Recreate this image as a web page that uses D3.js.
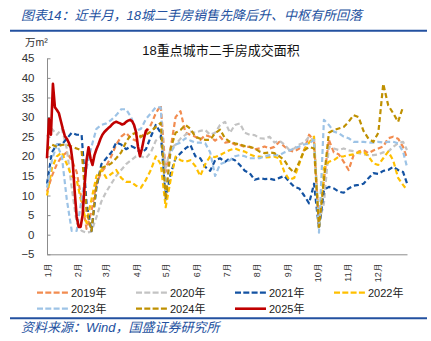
<!DOCTYPE html>
<html>
<head>
<meta charset="utf-8">
<script src="https://cdn.jsdelivr.net/npm/d3@7"></script>
<style>
  html, body { margin: 0; padding: 0; background: #fff; }
  svg { display: block; font-family: "Liberation Sans", Arial, "Noto Sans CJK SC", sans-serif; }
</style>
</head>
<body>
<svg id="chart" width="431" height="341"></svg>
<script>
// 18 key cities, second-hand housing transaction area (10k m²), by day of year
const yearLabels = ["2019年", "2020年", "2021年", "2022年", "2023年", "2024年", "2025年"];
const yTicks = [-5, 0, 5, 10, 15, 20, 25, 30, 35, 40, 45];

// dashed years sampled every 5 days from 1 Jan
const stepDays = 5;
const s2019 = [11,15,18,20,21,19,16,9,1.5,6, 13,16,17.5,20,23,25,26,24.5,24,25,
  26,28,31,33,16,22,30,31.5,26,25.5, 25,24.2,25.4,25,24,25,23.5,23.7,23,22.9,
  22.4,22.4,21.8,22,22.5,22,22.4,23.7,22.5,21.5, 21.2,22,21.5,25.5,24,2,14,24.2,21,20.5,
  18.6,16.5,20.3,21.2,21.6,20.8,21.5,22,22.5,24.6, 25,24.5,22.4,19.5];
const s2020 = [25,27,25.5,27,22,12,3,1,0.5,0.8, 4.5,8.5,11,13,15,16.5,18,19,20,20,
  19.5,21,24,25,17,22,23,24.5,25.5,26.3, 26,26.5,26.7,25.5,26,28,28.8,26,28,28.4,
  26,25.5,25.4,24.6,24.5,25,23.5,24,23,21.6, 22,23,23.5,25,24,3,8,22.4,22,21.6,
  22,21.5,21.3,20.8,20.5,20.3,20.3,20.5,21,21.2, 22.4,23.3,23.7,21.6];
const s2021 = [13,21,23,23,24.5,26,25.5,25.5,8,1, 12,18,19.5,21,23.5,23,21.8,22.6,22,20.8,
  21.8,25,28,26,9,15.5,19.5,20.8,22,22.9, 20,19.5,17.3,16.3,19,19.5,18.6,19.5,19,17.8,
  16.3,15.7,14,14.4,14.2,14.3,14,14.5,15,13.5, 12.2,11.8,10,8,13,1.5,11.4,12.2,11.8,11,
  10.7,11.8,12.5,12.7,13,14.4,15.7,15.5,16.3,16.5, 17.3,16.5,16,13.1];
const s2022 = [10,17,20,21,18,15,14,8,3,9, 15,16.5,14.5,15.5,16.5,14.5,13.5,13.5,12.5,12,
  14,16.5,20,18,7,14,19.9,19,18.6,19, 17.5,15,18,20,19.8,20.3,21,21.6,22,21.5,
  21.2,20.5,20,19.9,19.7,19.8,19.9,19.5,16,14, 14.5,18,21.6,23.5,25,1.5,17,18.6,19,19.9,
  20,20.3,20.5,21,21.2,20,18.2,17.8,19.5,21.2, 19,14.5,12.7,11.4];
const s2023 = [12,19,23,20,9,1,1,9,17,22.5, 27,28,28.4,29.3,30.5,32,32,30,26.5,27,
  29.5,31,32.5,32.5,11,21,23,23.5,24.6,24, 23.5,23.5,23.3,21,15,18,18.5,19,20,20.3,
  20,19.5,19.5,19.5,20,20.3,20.3,20.3,21,21.5, 22,22.5,23,23.3,24.2,0.5,29.3,28,26.3,25.9,
  25,24.6,23.7,23.7,23.7,23.5,23.5,23.7,23.5,23.7, 23.7,23.3,21.2,17.3];
const s2024 = [21.5,23,22.4,22.9,23,22.5,22,21.5,6,1, 13,17,17.5,18.2,19.5,21,23.7,25.5,26,25,
  25.5,26.3,27.5,28.5,9,22,26,26.7,28,27, 25,24.5,24.2,24.2,25.9,26.8,24.6,23.7,23.3,23,
  22.6,22.4,22,21.2,20.8,21,20.8,20,19,17, 15.8,18.5,21.5,22.4,22,2,14,26,26.7,27.1,
  27.5,28.8,30.5,30,26.5,24.5,23.7,26,38.5,33, 31,28.8,32.6];

// current year sampled every 2 days
const stepDays2025 = 2;
const s2025 = [19.5,29.5,25.5,38.5,32.5,31.8,31,29,27,25.2, 24.5,23.5,22.2,18.5,11,4.6,2,2,5,12.5,
  19,22.3,19.5,17.8,20.3,21.8,23,24.4,25.5,26.2, 26.7,27.2,27.6,28.2,28.6,28.8,28.6,28.4,28.1,28.3,
  28.8,29.1,29.3,29,28,26.2,22.5,20,22,24.5, 26.5,27];

const seriesValues = [s2019, s2020, s2021, s2022, s2023, s2024, s2025];
const seriesSteps = [stepDays, stepDays, stepDays, stepDays, stepDays, stepDays, stepDays2025];
const colors = ["#F28C50", "#C3C3C3", "#1352A2", "#FFC000", "#9DC3E6", "#BF9000", "#C00000"];

const svg = d3.select("#chart");
const blue = "#2351A0";

// header
svg.append("text").attr("x", 21).attr("y", 20)
  .attr("fill", blue).attr("font-size", 13).attr("font-style", "italic")
  .text("图表14：近半月，18城二手房销售先降后升、中枢有所回落");
svg.append("line").attr("x1", 10).attr("x2", 427).attr("y1", 30.7).attr("y2", 30.7)
  .attr("stroke", blue).attr("stroke-width", 2);

// footer
svg.append("line").attr("x1", 10).attr("x2", 427).attr("y1", 318.3).attr("y2", 318.3)
  .attr("stroke", blue).attr("stroke-width", 2);
svg.append("text").attr("x", 21).attr("y", 332)
  .attr("fill", blue).attr("font-size", 13).attr("font-style", "italic")
  .text("资料来源：Wind，国盛证券研究所");

// plot title and unit
svg.append("text").attr("x", 221).attr("y", 55).attr("text-anchor", "middle")
  .attr("fill", "#111").attr("font-size", 13).text("18重点城市二手房成交面积");
svg.append("text").attr("x", 25).attr("y", 46).attr("fill", "#333").attr("font-size", 10.5)
  .text("万m²");

const dayDate = d => new Date(Date.UTC(2001, 0, 1 + Math.min(d, 364)));
const x = d3.scaleUtc().domain([dayDate(0), dayDate(364)]).range([47, 407]);
const y = d3.scaleLinear().domain([-5, 45]).range([254.3, 58.3]);

// y axis with inside ticks
const yAxis = svg.append("g").attr("transform", "translate(47,0)")
  .call(d3.axisLeft(y).tickValues(yTicks).tickSizeInner(-3.5).tickSizeOuter(0).tickPadding(12.5));
yAxis.select(".domain").attr("stroke", "#8c8c8c");
yAxis.selectAll(".tick line").attr("stroke", "#8c8c8c");
yAxis.selectAll(".tick text").attr("fill", "#333").attr("font-size", 11.5)
  .attr("font-family", "'Liberation Sans', Arial, sans-serif");

// x axis: month starts, vertical labels
const xAxis = svg.append("g").attr("transform", "translate(0,254.3)")
  .call(d3.axisBottom(x).ticks(d3.utcMonth.every(1)).tickFormat(d => (d.getUTCMonth() + 1) + "月")
    .tickSize(0).tickSizeOuter(0));
xAxis.select(".domain").attr("stroke", "#8c8c8c");
xAxis.selectAll(".tick text")
  .attr("fill", "#333").attr("font-size", 9)
  .attr("text-anchor", "end")
  .attr("y", 0).attr("dy", "0.35em")
  .attr("transform", "translate(0,9) rotate(-90)");

// lines
const line = d3.line().x(d => x(d.date)).y(d => y(d.v));
seriesValues.forEach((vals, k) => {
  const pts = vals.map((v, i) => ({ date: dayDate(i * seriesSteps[k]), v }));
  const p = svg.append("path").datum(pts)
    .attr("fill", "none").attr("stroke", colors[k])
    .attr("stroke-linejoin", "round")
    .attr("d", line);
  if (k === 6) {
    p.attr("stroke-width", 2.6);
  } else {
    p.attr("stroke-width", 2.2).attr("stroke-dasharray", "5,3");
  }
});

// legend
const legend = svg.append("g");
yearLabels.forEach((lab, k) => {
  const col = k % 4, row = Math.floor(k / 4);
  const lx = 37 + col * 99, ly = 292.7 + row * 16;
  legend.append("line").attr("x1", lx).attr("x2", lx + 31).attr("y1", ly).attr("y2", ly)
    .attr("stroke", colors[k])
    .attr("stroke-width", k === 6 ? 2.6 : 2.2)
    .attr("stroke-dasharray", k === 6 ? null : "6,2.3");
  legend.append("text").attr("x", lx + 34).attr("y", ly).attr("dy", "0.36em")
    .attr("fill", "#222").attr("font-size", 11).text(lab);
});
</script>
</body>
</html>
